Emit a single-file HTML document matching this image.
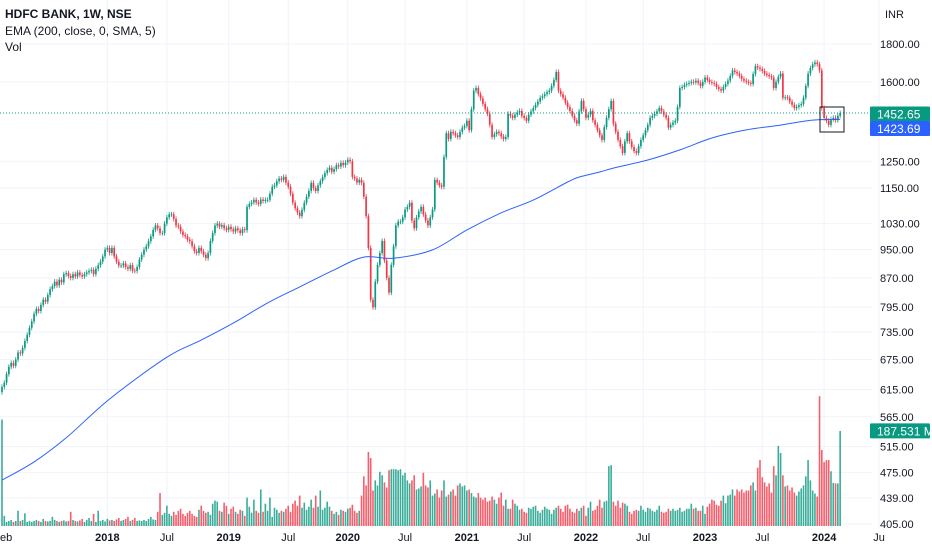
<!DOCTYPE html>
<html><head><meta charset="utf-8"><style>
html,body{margin:0;padding:0;background:#fff;}
svg{display:block;font-family:"Liberation Sans",sans-serif;}
</style></head><body>
<svg id="chart" width="932" height="550" viewBox="0 0 932 550">
<g id="grid"></g>
<g id="vol"></g>
<g id="candles"></g>
<g id="ema"></g>
<g id="yaxis"></g>
<g id="xaxis"></g>
<g id="legend">
<text x="5" y="18" font-size="12" font-weight="bold" fill="#131722">HDFC BANK, 1W, NSE</text>
<text x="5" y="35" font-size="12" fill="#131722">EMA (200, close, 0, SMA, 5)</text>
<text x="5" y="51" font-size="12" fill="#131722">Vol</text>
</g>
<text x="885" y="18" font-size="11" fill="#131722">INR</text>
</svg>
<script>
const closes=[620,628,645,660,668,662,675,690,688,700,
715,729,745,760,778,790,785,800,813,808,
825,840,848,860,850,865,858,880,883,875,
870,880,874,885,878,874,880,885,889,892,
880,895,905,915,930,950,955,940,955,930,
915,904,904,910,900,895,905,890,889,900,
921,935,950,960,975,990,1010,1024,1015,1000,
1000,1030,1050,1060,1060,1045,1024,1020,1005,994,
990,980,975,960,945,940,955,945,935,925,
940,976,1000,1024,1030,1020,1025,1015,1010,1020,
1012,1005,1015,1009,1000,1012,1009,1085,1095,1100,
1109,1100,1095,1110,1105,1109,1109,1130,1155,1160,
1175,1185,1180,1191,1170,1155,1130,1099,1080,1066,
1054,1075,1099,1120,1140,1169,1150,1140,1160,1175,
1190,1205,1217,1225,1210,1220,1235,1230,1244,1235,
1245,1256,1250,1191,1185,1170,1180,1169,1120,1054,
955,813,794,860,906,940,976,918,870,831,
906,960,1024,1036,1036,1050,1076,1085,1099,1040,
1015,1050,1070,1085,1060,1040,1024,1050,1076,1180,
1170,1160,1155,1267,1364,1340,1370,1364,1355,1348,
1370,1388,1395,1418,1377,1470,1557,1570,1540,1520,
1494,1470,1449,1400,1348,1360,1370,1364,1350,1340,
1348,1449,1440,1431,1445,1455,1462,1440,1430,1418,
1445,1460,1475,1490,1505,1523,1530,1540,1550,1557,
1580,1610,1650,1557,1540,1523,1500,1480,1462,1440,
1420,1405,1460,1508,1470,1431,1445,1462,1420,1400,
1377,1355,1336,1390,1431,1470,1508,1405,1370,1336,
1310,1283,1330,1364,1330,1307,1290,1283,1310,1336,
1355,1377,1400,1431,1440,1449,1460,1475,1460,1445,
1431,1388,1400,1410,1418,1480,1570,1575,1585,1590,
1595,1600,1598,1606,1595,1580,1600,1622,1610,1600,
1595,1590,1575,1565,1557,1575,1590,1606,1630,1658,
1650,1642,1630,1615,1606,1600,1595,1590,1640,1680,
1672,1665,1655,1642,1635,1628,1622,1570,1600,1625,
1642,1523,1525,1523,1505,1490,1475,1480,1488,1494,
1523,1580,1642,1670,1690,1700,1690,1658,1475,1430,
1418,1400,1425,1431,1420,1440,1452.65];
const firstOpen=610;
const volumes=[210,20,8,10,12,8,10,30,10,12,
25,8,10,8,10,12,10,8,14,10,
9,10,18,12,10,8,10,11,9,10,
28,12,10,9,11,14,8,12,16,10,
24,8,30,10,12,9,14,11,12,10,
13,16,10,12,14,18,10,12,16,10,
11,10,12,10,14,18,13,12,28,65,
22,26,40,24,20,28,22,30,34,24,
20,26,30,24,20,18,32,40,30,26,
28,22,44,50,48,30,28,46,40,24,
34,38,28,24,32,30,20,56,38,26,
52,30,26,72,28,44,30,56,18,36,
32,26,30,28,34,40,28,44,50,40,
60,36,46,32,38,52,36,60,38,70,
32,36,48,38,30,24,28,22,32,30,
28,34,36,42,30,26,30,60,98,80,
146,134,70,90,80,107,100,86,76,110,
112,112,112,110,112,100,105,90,84,90,
100,72,74,78,105,80,76,90,60,64,
72,56,70,90,58,62,68,72,60,80,
84,78,80,70,72,65,58,56,65,56,
52,56,48,50,58,52,44,56,66,40,
52,34,34,52,44,40,32,34,28,26,
36,34,38,40,30,26,32,38,34,32,
24,32,36,40,34,28,40,42,34,28,
26,34,30,36,40,20,36,48,30,32,
40,52,36,48,50,118,120,48,40,50,
36,46,44,40,28,24,30,32,30,40,
32,28,36,34,30,28,32,40,28,26,
28,34,30,34,30,32,36,28,30,34,
34,44,34,36,30,30,40,24,38,44,
52,50,42,40,50,60,45,60,62,72,
60,72,68,72,66,70,70,80,86,70,
115,130,96,86,78,84,66,118,100,158,
144,100,78,80,70,76,66,60,68,74,
80,98,130,90,70,64,58,256,150,126,
130,130,108,85,84,84,187.531];
const emaWeeks=[0,14,28,47,72,87,101,116,130,145,158,171,188,203,218,232,247,252,261,267,282,296,310,325,340,354,366];
const emaVals=[464,491,529,597,680,717,756,805,846,892,928,925,949,1010,1065,1108,1172,1190,1209,1224,1255,1295,1344,1378,1399,1421,1423.69];
const priceTicks=[1800,1600,1250,1150,1030,950,870,795,735,675,615,565,515,475,439,405];
const timeLabels=["eb","2018","Jul","2019","Jul","2020","Jul","2021","Jul","2022","Jul","2023","Jul","2024","Ju"];
const timeWeeks=[-1,46,72,99,125,151,176,203,228,255,280,307,332,359,383];
const timeBold=[0,1,0,1,0,1,0,1,0,1,0,1,0,1,0];

const NS="http://www.w3.org/2000/svg";
const PW=872;
function X(i){return 2+i*2.29;}
const L1800=Math.log(1800);
function Y(p){return 44+(L1800-Math.log(p))*321.7;}
const VBASE=526, VK=0.507;
function VY(v){return VBASE-v*VK;}
function mk(tag,attrs,parent){const e=document.createElementNS(NS,tag);for(const k in attrs)e.setAttribute(k,attrs[k]);parent.appendChild(e);return e;}
const GREEN="#089981",RED="#f23645";

const grid=document.getElementById('grid');
priceTicks.forEach(p=>{
  const l=mk('line',{x1:0,x2:PW,y1:Y(p),y2:Y(p),stroke:'#f0f3fa','stroke-width':1},grid);
  
  
});
timeWeeks.forEach(w=>{
  if(w<0)return;
  const l=mk('line',{x1:X(w),x2:X(w),y1:0,y2:528,stroke:'#f0f3fa','stroke-width':1},grid);
  
  
});

const vol=document.getElementById('vol');
const cg=document.getElementById('candles');
let prev=firstOpen;
closes.forEach((c,i)=>{
  const o=prev; prev=c;
  const up=c>=o; const col=up?GREEN:RED;
  const x=X(i);
  const v=volumes[i];
  const vb=mk('rect',{x:x-0.8,y:VY(v),width:1.6,height:VBASE-VY(v),fill:col,opacity:0.8},vol);
  
  
  const yt=Y(Math.max(o,c)), yb=Y(Math.min(o,c));
  const w=mk('line',{x1:x,x2:x,y1:yt-2.5,y2:yb+2.5,stroke:col,'stroke-width':0.8},cg);
  
  
  const b=mk('rect',{x:x-0.85,y:yt,width:1.7,height:Math.max(0.8,yb-yt),fill:col},cg);
  
  
});

const eg=document.getElementById('ema');
const pts=emaWeeks.map((w,k)=>[X(w),Y(emaVals[k])]);
let d='M'+pts[0][0].toFixed(1)+','+pts[0][1].toFixed(1);
for(let k=0;k<pts.length-1;k++){
  const p0=pts[Math.max(0,k-1)],p1=pts[k],p2=pts[k+1],p3=pts[Math.min(pts.length-1,k+2)];
  const c1x=p1[0]+(p2[0]-p0[0])/6,c1y=p1[1]+(p2[1]-p0[1])/6;
  const c2x=p2[0]-(p3[0]-p1[0])/6,c2y=p2[1]-(p3[1]-p1[1])/6;
  d+='C'+c1x.toFixed(1)+','+c1y.toFixed(1)+' '+c2x.toFixed(1)+','+c2y.toFixed(1)+' '+p2[0].toFixed(1)+','+p2[1].toFixed(1);
}
const ep=mk('path',{d:d,fill:'none',stroke:'#2962ff','stroke-width':1,'stroke-linejoin':'round'},eg);



const lastC=closes[closes.length-1];
const dl=mk('line',{x1:0,x2:PW,y1:Y(lastC),y2:Y(lastC),stroke:GREEN,'stroke-width':1,'stroke-dasharray':'1 2'},eg);


const sb=mk('rect',{x:820,y:107,width:24,height:25,fill:'none',stroke:'#131722','stroke-width':1},eg);



const ya=document.getElementById('yaxis');
priceTicks.forEach(p=>{
  const t=mk('text',{x:880,y:Y(p)+4,'font-size':11,fill:'#131722'},ya);
  t.textContent=p.toFixed(2);
  
  
});
function tag(y,txt,bg,name){
  const r=mk('rect',{x:870,y:y-7.5,width:60,height:15,fill:bg,rx:1},ya);
  
  
  const t=mk('text',{x:877,y:y+4.5,'font-size':12,fill:'#fff'},ya);
  t.textContent=txt;
  
  
}
tag(Y(lastC)+1,lastC.toFixed(2),GREEN,'last-price-tag');
tag(Y(emaVals[emaVals.length-1])+9,emaVals[emaVals.length-1].toFixed(2),'#2962ff','ema-value-tag');
tag(VY(volumes[volumes.length-1]),volumes[volumes.length-1].toFixed(3)+' M',GREEN,'volume-value-tag');

const xa=document.getElementById('xaxis');
timeLabels.forEach((s,k)=>{
  const t=mk('text',{x:timeWeeks[k]<0?0:X(timeWeeks[k]),y:541,'font-size':11,fill:'#131722','text-anchor':timeWeeks[k]<0?'start':'middle','font-weight':timeBold[k]?'bold':'normal'},xa);
  t.textContent=s;
  
  
});
</script>
</body></html>
